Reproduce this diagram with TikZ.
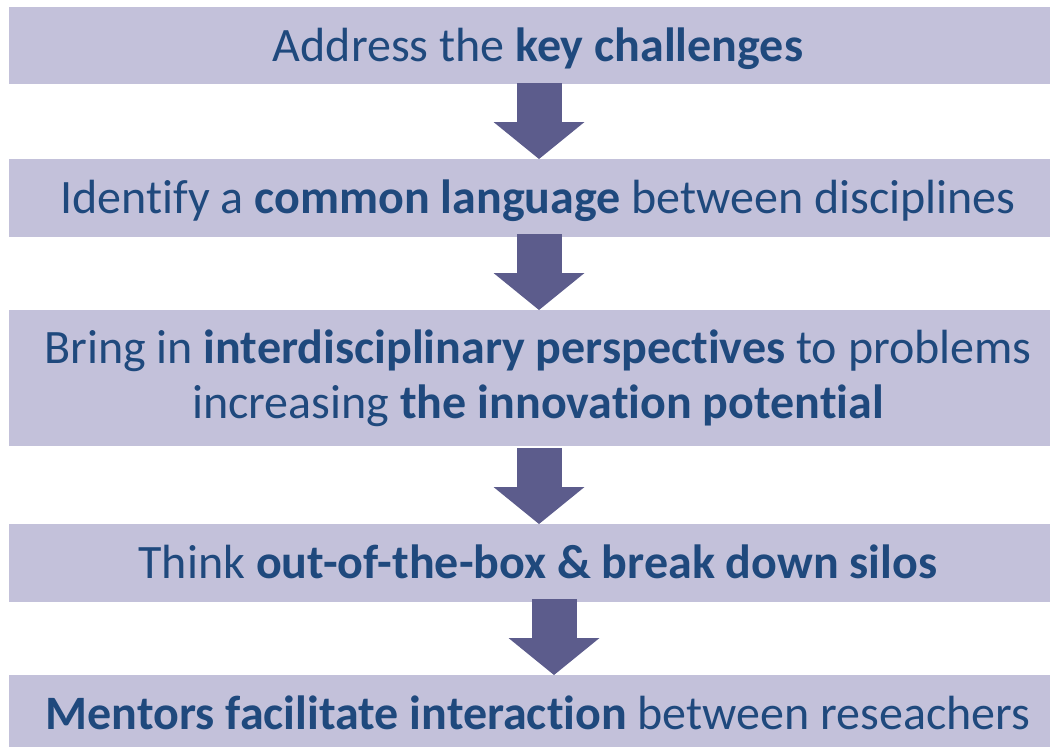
\documentclass[tikz,border=0pt]{standalone}
\usepackage{fontspec}
\setmainfont{Carlito}[Ligatures=NoCommon]
\usepackage{tikz}
\usetikzlibrary{arrows.meta, positioning, calc}

\definecolor{boxfill}{RGB}{195,193,218}
\definecolor{arrowfill}{RGB}{92,92,140}
\definecolor{textblue}{RGB}{31,73,125}

\begin{document}
\begin{tikzpicture}[
    x=1pt, y=1pt,
    node distance=75pt,
    stage/.style={rectangle, minimum width=1058pt, minimum height=78pt, inner sep=0pt, outer sep=0pt, fill=boxfill, text=textblue, font=\fontsize{48}{55}\selectfont, text centered},
    oneline/.style={text height=32pt, text depth=1pt},
    blockarrow/.style={line width=45pt, draw=arrowfill, -{Triangle[width=91pt, length=37pt, line width=0pt, fill=arrowfill]}},
]
    \useasboundingbox (0,0) rectangle (1050,-747);
    \clip (0,0) rectangle (1050,-747);

    % Steps
    \node (key_challenges) [stage, oneline, minimum height=77pt, anchor=north west] at (9,-7) {Address the \textbf{key challenges}};
    \node (common_language) [stage, oneline, below=of key_challenges] {Identify a \textbf{common language} between disciplines};
    \node (perspectives) [stage, align=center, minimum height=136pt, below=73pt of common_language] {Bring in \textbf{interdisciplinary perspectives} to problems\\increasing \textbf{the innovation potential}};
    \node (silos) [stage, oneline, below=78pt of perspectives] {Think \textbf{out-of-the-box \& break down silos}};
    \node (mentors) [stage, oneline, below=73pt of silos] {\textbf{Mentors facilitate interaction} between reseachers};

    \draw [blockarrow] ($(key_challenges.south)+(1,1)$) -- ($(common_language.north)+(1,0)$);
    \draw [blockarrow] ($(common_language.south)+(1,3)$) -- ($(perspectives.north)+(1,0)$);
    \draw [blockarrow] ($(perspectives.south)+(1,-2)$) -- ($(silos.north)+(1,0)$);
    \draw [blockarrow] ($(silos.south)+(16,3)$) -- ($(mentors.north)+(16,0)$);

\end{tikzpicture}
\end{document}
